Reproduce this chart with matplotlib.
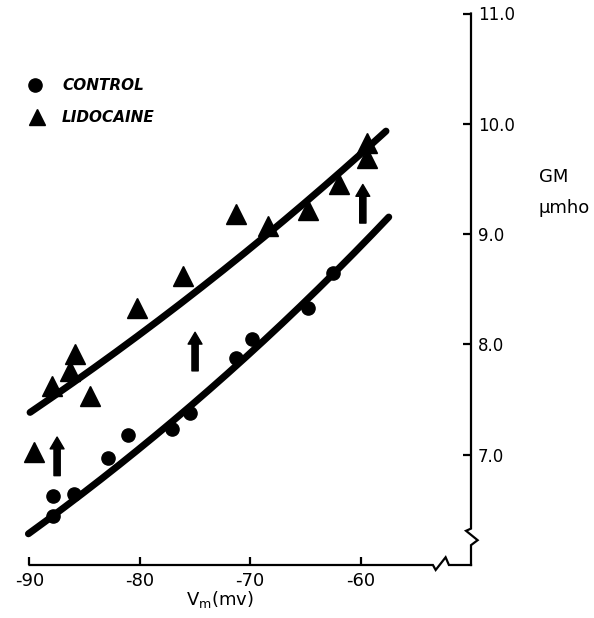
import numpy as np
import matplotlib
matplotlib.use("Agg")
import matplotlib.pyplot as plt
from matplotlib.patches import FancyArrowPatch
from matplotlib.lines import Line2D

# ---------------- data ----------------
control_v = [-87.9, -87.9, -86.0, -82.9, -81.1, -77.1, -75.5, -71.3, -69.8, -64.8, -62.5]
control_g = [6.44, 6.63, 6.64, 6.97, 7.18, 7.23, 7.38, 7.88, 8.05, 8.33, 8.65]

lido_v = [-89.6, -88.0, -86.3, -85.9, -84.5, -80.3, -76.1, -71.3, -68.4, -64.8, -62.0, -59.4, -59.4]
lido_g = [7.02, 7.62, 7.76, 7.91, 7.53, 8.33, 8.62, 9.18, 9.07, 9.22, 9.45, 9.83, 9.69]

# exponential fit curves: G = A * exp(b * (V + 90)), drawn over [v_start, v_end]
control_fit = dict(A=6.29, b=0.01153, v_start=-90.1, v_end=-57.45)
lido_fit = dict(A=7.38, b=0.0092, v_start=-89.95, v_end=-57.7)

# upward arrows (V, G start, G end)
arrow_v = [-87.5, -75.0, -59.8]
arrow_g0 = [6.81, 7.76, 9.10]
arrow_g1 = [7.16, 8.11, 9.45]

x_ticks = [-90, -80, -70, -60]
x_ticklabels = ["-90", "-80", "-70", "-60"]
y_ticks = [7, 8, 9, 10, 11]
y_ticklabels = ["7.0", "8.0", "9.0", "10.0", "11.0"]

# ---------------- figure ----------------
W, H = 594, 618
fig = plt.figure(figsize=(W / 100, H / 100), dpi=100)
plt.rcParams['font.family'] = ['DejaVu Sans']

left_px, right_px, top_px, bot_px = 29.5, 471, 13.5, 565
ax = fig.add_axes([left_px / W, 1 - bot_px / H, (right_px - left_px) / W, (bot_px - top_px) / H])
ax.set_xlim(-90, -50)
ax.set_ylim(6, 11)
for s in ax.spines.values():
    s.set_visible(False)

# axis lines with break marks
ax.plot([-90, -53.45, -53.2, -52.3, -52.0, -50], [6, 6, 5.955, 6.07, 6, 6],
        color='black', lw=1.6, clip_on=False, solid_joinstyle='miter')
ax.plot([-50, -50, -49.4, -50.45, -50, -50], [6, 6.18, 6.225, 6.31, 6.33, 11],
        color='black', lw=1.6, clip_on=False, solid_joinstyle='miter')

ax.set_xticks(x_ticks)
ax.set_xticklabels(x_ticklabels, fontsize=13)
ax.yaxis.tick_right()
ax.set_yticks(y_ticks)
ax.set_yticklabels(y_ticklabels, fontsize=12)
ax.tick_params(axis='x', direction='in', length=6, width=1.6, pad=5)
ax.tick_params(axis='y', direction='in', length=6, width=1.6, pad=5)

# fitted curves
for fit in (control_fit, lido_fit):
    vv = np.linspace(fit['v_start'], fit['v_end'], 200)
    ax.plot(vv, fit['A'] * np.exp(fit['b'] * (vv + 90)), color='black', lw=5,
            solid_capstyle='round', clip_on=False)

# data markers
ax.plot(control_v, control_g, 'o', color='black', ms=9.5, clip_on=False)
ax.plot(lido_v, lido_g, '^', color='black', ms=14, clip_on=False)

# arrows
for v, g0, g1 in zip(arrow_v, arrow_g0, arrow_g1):
    arr = FancyArrowPatch((v, g0), (v, g1),
                          arrowstyle='simple,head_width=1.0,head_length=0.85,tail_width=0.45',
                          mutation_scale=10, color='black', shrinkA=0, shrinkB=0)
    ax.add_patch(arr)

# axis titles
fig.text(220 / W, 1 - 600 / H, 'V$_\\mathrm{m}$(mv)', fontsize=13, ha='center', va='center')
fig.text(554 / W, 1 - 177 / H, 'GM', fontsize=13, ha='center', va='center')
fig.text(564 / W, 1 - 208 / H, 'μmho', fontsize=13, ha='center', va='center')

# legend
fig.add_artist(Line2D([35 / W], [1 - 85 / H], marker='o', color='black', ms=9.5,
                      transform=fig.transFigure))
fig.add_artist(Line2D([37 / W], [1 - 117 / H], marker='^', color='black', ms=12,
                      transform=fig.transFigure))
fig.text(62 / W, 1 - 85 / H, 'CONTROL', fontsize=11, fontweight='bold', fontstyle='italic',
         ha='left', va='center')
fig.text(62 / W, 1 - 117 / H, 'LIDOCAINE', fontsize=11, fontweight='bold', fontstyle='italic',
         ha='left', va='center')

fig.savefig('out.png', dpi=100)
